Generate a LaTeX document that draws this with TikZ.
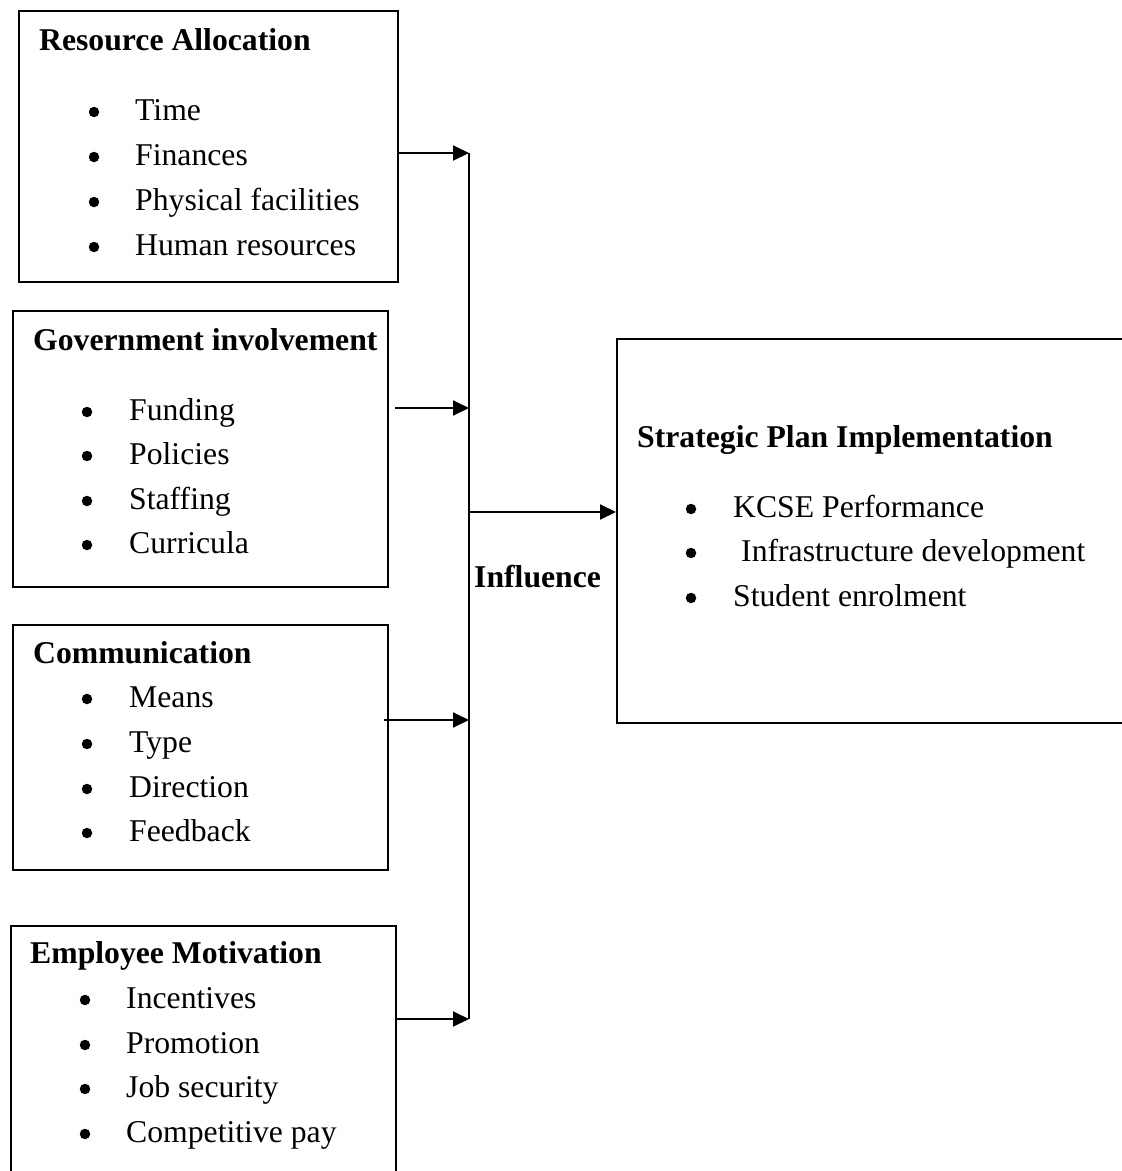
\documentclass[tikz,border=0pt]{standalone}
\usepackage{fontspec}
\setmainfont{Liberation Serif}
\usetikzlibrary{arrows.meta}
\begin{document}
\begin{tikzpicture}[x=1pt,y=-1pt,
  font=\fontsize{31.7}{38}\selectfont,
  box/.style={draw,line width=2pt,inner sep=0pt,anchor=north west},
  ttl/.style={anchor=base west,inner sep=0pt,font=\fontsize{31.7}{38}\selectfont\bfseries},
  itm/.style={anchor=base west,inner sep=0pt},
  bul/.style={circle,fill,inner sep=0pt,minimum size=10.5pt},
  arr/.style={line width=2pt,-{Triangle[length=16pt,width=15pt]}},
  ln/.style={line width=2pt}]
\useasboundingbox (0,0) rectangle (1122,1171);
% boxes
\node[box,minimum width=379pt,minimum height=271pt] (b1) at (18,10) {};
\node[box,minimum width=375pt,minimum height=276pt] (b2) at (12,310) {};
\node[box,minimum width=375pt,minimum height=245pt] (b3) at (12,624) {};
\node[box,minimum width=385pt,minimum height=270pt] (b4) at (10,925) {};
\node[box,minimum width=530pt,minimum height=384pt] (r) at (616,338) {};
% box 1
\node[ttl] (t1a) at (39,50) {Resource Allocation};
\node[bul] (p11) at (94,112) {}; \node[itm] (i11) at (135,120) {Time};
\node[bul] (p12) at (94,157) {}; \node[itm] (i12) at (135,165) {Finances};
\node[bul] (p13) at (94,202) {}; \node[itm] (i13) at (135,210) {Physical facilities};
\node[bul] (p14) at (94,247) {}; \node[itm] (i14) at (135,255) {Human resources};
% box 2
\node[ttl] (t2a) at (33,350) {Government involvement};
\node[bul] (p21) at (87,412) {}; \node[itm] (i21) at (129,420) {Funding};
\node[bul] (p22) at (87,456) {}; \node[itm] (i22) at (129,464) {Policies};
\node[bul] (p23) at (87,501) {}; \node[itm] (i23) at (129,509) {Staffing};
\node[bul] (p24) at (87,545) {}; \node[itm] (i24) at (129,553) {Curricula};
% box 3
\node[ttl] (t3a) at (33,663) {Communication};
\node[bul] (p31) at (87,699) {}; \node[itm] (i31) at (129,707) {Means};
\node[bul] (p32) at (87,744) {}; \node[itm] (i32) at (129,752) {Type};
\node[bul] (p33) at (87,789) {}; \node[itm] (i33) at (129,797) {Direction};
\node[bul] (p34) at (87,833) {}; \node[itm] (i34) at (129,841) {Feedback};
% box 4
\node[ttl] (t4a) at (30,963) {Employee Motivation};
\node[bul] (p41) at (85,1000) {}; \node[itm] (i41) at (126,1008) {Incentives};
\node[bul] (p42) at (85,1045) {}; \node[itm] (i42) at (126,1053) {Promotion};
\node[bul] (p43) at (85,1089) {}; \node[itm] (i43) at (126,1097) {Job security};
\node[bul] (p44) at (85,1134) {}; \node[itm] (i44) at (126,1142) {Competitive pay};
% right box
\node[ttl] (tra) at (637,447) {Strategic Plan Implementation};
\node[bul] (pr1) at (691,509) {}; \node[itm] (ir1) at (733,517) {KCSE Performance};
\node[bul] (pr2) at (691,553) {}; \node[itm] (ir2) at (741,561) {Infrastructure development};
\node[bul] (pr3) at (691,598) {}; \node[itm] (ir3) at (733,606) {Student enrolment};
% influence label
\node[ttl] (inf) at (474,587) {Influence};
% connectors
\coordinate (k1) at (469,153);
\coordinate (k2) at (469,408);
\coordinate (k3) at (469,720);
\coordinate (k4) at (469,1019);
\coordinate (km) at (469,512);
\coordinate (s2) at (395,408);
\coordinate (s3) at (384,720);
\draw[ln] (k1) -- (k4);
\draw[arr] (b1.east |- k1) -- (k1);
\draw[arr] (s2) -- (k2);
\draw[arr] (s3) -- (k3);
\draw[arr] (b4.east |- k4) -- (k4);
\draw[arr] (km) -- (r.west |- km);
\end{tikzpicture}
\end{document}
